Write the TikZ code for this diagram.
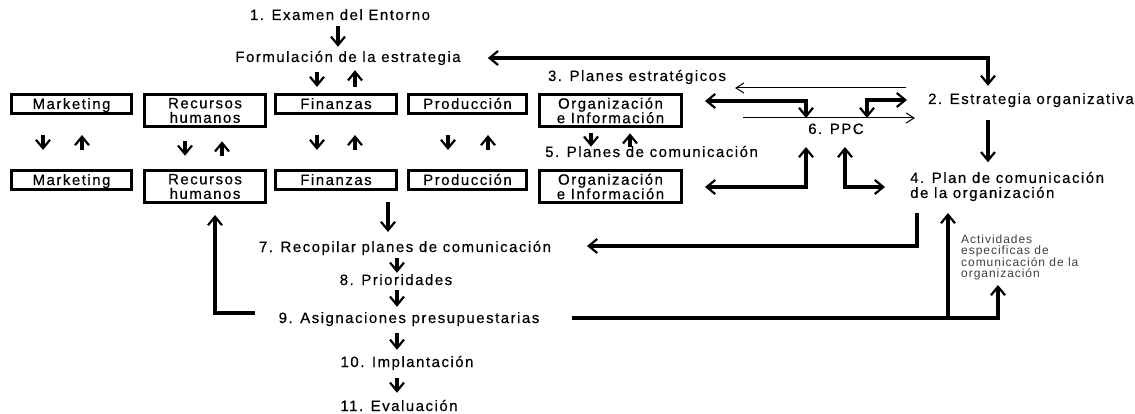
\documentclass[tikz,border=0pt]{standalone}
\usepackage{fontspec}
\setmainfont{Liberation Sans}
\newfontfamily\trackedsans{Liberation Sans}[LetterSpace=10,FakeBold=0.4]
\newfontfamily\smallsans{Liberation Sans}[LetterSpace=8]
\usetikzlibrary{arrows.meta,calc}
\tikzset{
  barb/.tip={Straight Barb[length=8.5pt,width=14pt,line width=2.2pt]},
  thinbarb/.tip={Straight Barb[length=8pt,width=10pt]},
}
\begin{document}
\begin{tikzpicture}[x=1pt,y=-1pt,
  lbl/.style={font=\trackedsans\fontsize{15}{15}\selectfont, inner sep=0pt, text height=11pt, text depth=3pt},
  bx/.style={draw, line width=3.2pt, inner sep=0pt, align=center,
    font=\trackedsans\fontsize{15}{15}\selectfont, minimum height=18.8pt, text height=12pt, text depth=2pt},
  bxx/.style={draw, line width=3.2pt, inner sep=0pt, align=center,
    font=\trackedsans\fontsize{15}{14.5}\selectfont, minimum height=31.8pt},
  thk/.style={line width=3.2pt, -barb},
  thkboth/.style={line width=3.2pt, barb-barb},
  thn/.style={line width=1pt, -thinbarb},
]
\path[use as bounding box] (0,0) rectangle (1135,414);

% ---- main sequence texts
\node[lbl] (n1)  at (340,16)  {1. Examen del Entorno};
\node[lbl] (fe)  at (348,58)  {Formulación de la estrategia};
\node[lbl] (pe)  at (637,77)  {3. Planes estratégicos};
\node[lbl] (est) at (1031,100) {2. Estrategia organizativa};
\node[lbl] (ppc) at (836,130) {6. PPC};
\node[lbl, anchor=west] (pc5) at (545,153) {5. Planes de comunicación};
\node[lbl, anchor=west, align=left, text height=, text depth=] (plan) at (910,186.5)
  {4. Plan de comunicación\\de la organización};
\node[lbl] (rec) at (405,248) {7. Recopilar planes de comunicación};
\node[lbl] (pri) at (396,281) {8. Prioridades};
\node[lbl] (asg) at (409,319) {9. Asignaciones presupuestarias};
\node[lbl] (imp) at (407,363) {10. Implantación};
\node[lbl] (eva) at (399,407) {11. Evaluación};
\node[anchor=west, align=left, inner sep=0pt, text=black!75,
      font=\smallsans\fontsize{12}{10.5}\selectfont] (act) at (961,257.5)
  {Actividades\\especificas de\\comunicación de la\\organización};

% ---- functional areas, two rows
\node[bx,  minimum width=119.8pt] (mk1) at (71.5,104)  {Marketing};
\node[bxx, minimum width=120.8pt] (rh1) at (205,110.5) {Recursos\\humanos};
\node[bx,  minimum width=120.8pt] (fi1) at (336,104)   {Finanzas};
\node[bx,  minimum width=117.8pt] (pr1) at (467.5,104) {Producción};
\node[bxx, minimum width=141.8pt] (or1) at (610.5,110.5) {Organización\\e Información};

\node[bx,  minimum width=119.8pt] (mk2) at (71.5,180)  {Marketing};
\node[bxx, minimum width=120.8pt] (rh2) at (205,186.5) {Recursos\\humanos};
\node[bx,  minimum width=120.8pt] (fi2) at (336,180)   {Finanzas};
\node[bx,  minimum width=117.8pt] (pr2) at (467.5,180) {Producción};
\node[bxx, minimum width=141.8pt] (or2) at (610.5,186.5) {Organización\\e Información};

% ---- top of the sequence
\draw[thk, shorten <=3pt, shorten >=4pt]
  ([xshift=-2pt]n1.south) -- ([xshift=-2pt]n1.south |- fe.north);
\draw[thk, shorten <=7pt, shorten >=6pt]
  ([xshift=-19pt]fi1.north |- fe.south) -- ([xshift=-19pt]fi1.north);
\draw[thk, shorten <=6pt, shorten >=5pt]
  ([xshift=19pt]fi1.north) -- ([xshift=19pt]fi1.north |- fe.south);

% ---- arrows between the two rows
\foreach \a/\b/\l/\r/\s/\t in {mk1/mk2/-28.5/10.5/20/19, rh1/rh2/-20/17/13.3/13.3,
    fi1/fi2/-19/19/20/19, pr1/pr2/-19.5/20.5/20/19, or1/or2/-19.5/19.5/5.3/22.3}{
  \draw[thk, shorten <=\s pt, shorten >=\t pt] ([xshift=\l pt]\a.south) -- ([xshift=\l pt]\b.north);
  \draw[thk, shorten <=\t pt, shorten >=\s pt] ([xshift=\r pt]\b.north) -- ([xshift=\r pt]\a.south);
}

% ---- strategy loop
\coordinate (estA) at ([xshift=-43pt]est.north);
\draw[thkboth, shorten <=27pt, shorten >=7pt] (fe.east) -- (fe.east -| estA) -- (estA);
\draw[thk] ([xshift=-43pt,yshift=-13pt]est.south) -- ++(0,42);

% ---- thin arrows around the PPC
\coordinate (ta1) at (906,88);  \coordinate (ta2) at (735,88);
\coordinate (tb1) at (743,118); \coordinate (tb2) at (915,118);
\draw[thn] (ta1) -- (ta2);
\draw[thn] (tb1) -- (tb2);

% ---- PPC connectors
\coordinate (pA1) at (705,101); \coordinate (pA2) at (806,101); \coordinate (pA3) at (806,118);
\coordinate (pB1) at (867,118); \coordinate (pB2) at (867,100); \coordinate (pB3) at (907,100);
\coordinate (pC1) at (705,187); \coordinate (pC2) at (806,187); \coordinate (pC3) at (806,147);
\coordinate (pD1) at (845,147); \coordinate (pD2) at (845,187); \coordinate (pD3) at (885,187);
\draw[thkboth] (pA1) -- (pA2) -- (pA3);
\draw[thkboth] (pB1) -- (pB2) -- (pB3);
\draw[thkboth] (pC1) -- (pC2) -- (pC3);
\draw[thkboth] (pD1) -- (pD2) -- (pD3);

% ---- plan back to the compilation step
\coordinate (e1) at (917,213); \coordinate (e2) at (917,246);
\draw[thk] (e1) -- (e2) -- (e2 -| 587,0);

% ---- lower sequence
\draw[thk] (388,202) -- (388,232);
\draw[thk, shorten <=3pt, shorten >=1pt] ([xshift=-8pt]rec.south) -- ([xshift=-8pt]rec.south |- pri.north);
\draw[thk, shorten <=2pt, shorten >=5pt] ([xshift=1pt]pri.south) -- ([xshift=1pt]pri.south |- asg.north);
\draw[thk, shorten <=7pt, shorten >=6pt] ([xshift=-12pt]asg.south) -- ([xshift=-12pt]asg.south |- imp.north);
\draw[thk, shorten <=8pt, shorten >=7pt] ([xshift=-10pt]imp.south) -- ([xshift=-10pt]imp.south |- eva.north);

% ---- budget feedback
\coordinate (f1) at (255,313); \coordinate (f2) at (215,313); \coordinate (f3) at (215,215);
\draw[thk] (f1) -- (f2) -- (f3);
\coordinate (g1) at (572,318); \coordinate (g2) at (998,318); \coordinate (g3) at (998,285);
\coordinate (g4) at (948,318); \coordinate (g5) at (948,213);
\draw[thk] (g1) -- (g2) -- (g3);
\draw[thk] (g4) -- (g5);
\end{tikzpicture}
\end{document}
